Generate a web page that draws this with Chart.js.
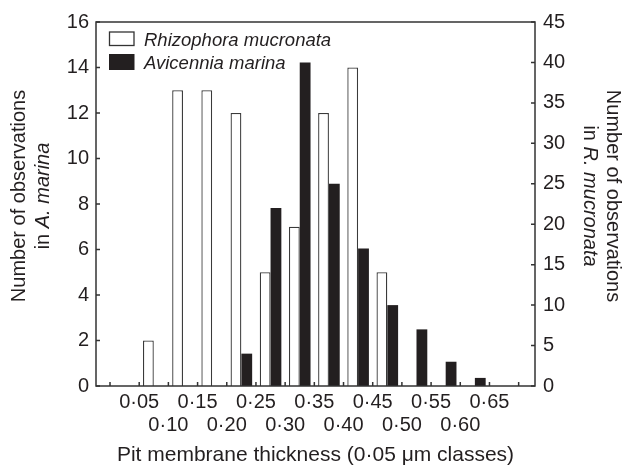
<!DOCTYPE html>
<html>
<head>
<meta charset="utf-8">
<script src="https://cdn.jsdelivr.net/npm/chart.js@4.4.0/dist/chart.umd.min.js"></script>
<style>
  html, body { margin: 0; padding: 0; background: #fff; }
  #wrap { width: 626px; height: 467px; }
</style>
</head>
<body>
<div id="wrap"><canvas id="chart" width="626" height="467"></canvas></div>
<script>
// pit membrane thickness classes (lower bound of each 0.05 um class)
const classStarts = [0.00, 0.05, 0.10, 0.15, 0.20, 0.25, 0.30, 0.35, 0.40, 0.45, 0.50, 0.55, 0.60, 0.65];
// bar heights as drawn against the gridlines
const rhizophora = [0, 2, 13, 13, 12, 5, 7, 12, 14, 5, 0, 0, 0, 0];   // left axis
const avicennia = [0, 0, 0, 0, 4, 22, 40, 25, 17, 10, 7, 3, 1, 0];    // right axis

const xTickValues = [0.00, 0.05, 0.10, 0.15, 0.20, 0.25, 0.30, 0.35, 0.40, 0.45, 0.50, 0.55, 0.60, 0.65, 0.70];
const xTickLabels = ["", "0·05", "0·10", "0·15", "0·20", "0·25", "0·30", "0·35", "0·40", "0·45", "0·50", "0·55", "0·60", "0·65", ""];
const leftTicks = [0, 2, 4, 6, 8, 10, 12, 14, 16];
const rightTicks = [0, 5, 10, 15, 20, 25, 30, 35, 40, 45];

const ink = "#231f20";
const fontFamily = "'Liberation Sans', Arial, Helvetica, sans-serif";
Chart.defaults.font.family = fontFamily;
Chart.defaults.font.size = 20;
Chart.defaults.color = ink;

// frame, inward tick marks, legend and two-line axis titles
const decorPlugin = {
  id: "decor",
  afterDraw(chart) {
    const { ctx, chartArea: a, scales } = chart;
    ctx.save();
    ctx.strokeStyle = "#333";
    ctx.lineWidth = 1.5;
    ctx.strokeRect(a.left, a.top, a.right - a.left, a.bottom - a.top);

    ctx.beginPath();
    xTickValues.forEach((v) => {
      const x = scales.x.getPixelForValue(v);
      ctx.moveTo(x, a.bottom);
      ctx.lineTo(x, a.bottom - 4);
    });
    leftTicks.forEach((v) => {
      const y = scales.y.getPixelForValue(v);
      ctx.moveTo(a.left, y);
      ctx.lineTo(a.left + 4, y);
    });
    rightTicks.forEach((v) => {
      const y = scales.y1.getPixelForValue(v);
      ctx.moveTo(a.right, y);
      ctx.lineTo(a.right - 4, y);
    });
    ctx.stroke();

    // legend
    const ds = chart.data.datasets;
    ctx.font = "italic 18.5px " + fontFamily;
    ctx.textBaseline = "alphabetic";
    ctx.textAlign = "left";
    ctx.fillStyle = "#fff";
    ctx.lineWidth = 1.3;
    ctx.fillRect(109.5, 32, 24.5, 13.5);
    ctx.strokeRect(109.5, 32, 24.5, 13.5);
    ctx.fillStyle = ds[1].backgroundColor;
    ctx.fillRect(109, 54, 25.5, 16);
    ctx.fillStyle = ink;
    ctx.fillText(ds[0].label, 144, 45.5);
    ctx.fillText(ds[1].label, 144, 69);

    // axis titles with italic species names
    function drawParts(parts) {
      let total = 0;
      parts.forEach((p) => {
        ctx.font = (p.italic ? "italic " : "") + "20px " + fontFamily;
        total += ctx.measureText(p.text).width;
      });
      let x = -total / 2;
      parts.forEach((p) => {
        ctx.font = (p.italic ? "italic " : "") + "20px " + fontFamily;
        ctx.fillText(p.text, x, 0);
        x += ctx.measureText(p.text).width;
      });
    }
    ctx.textBaseline = "middle";
    const cy = 196;

    ctx.save();
    ctx.translate(19, cy);
    ctx.rotate(-Math.PI / 2);
    drawParts([{ text: "Number of observations" }]);
    ctx.restore();
    ctx.save();
    ctx.translate(43, cy);
    ctx.rotate(-Math.PI / 2);
    drawParts([{ text: "in " }, { text: "A. marina", italic: true }]);
    ctx.restore();

    ctx.save();
    ctx.translate(613, cy);
    ctx.rotate(Math.PI / 2);
    drawParts([{ text: "Number of observations" }]);
    ctx.restore();
    ctx.save();
    ctx.translate(590, cy);
    ctx.rotate(Math.PI / 2);
    drawParts([{ text: "in " }, { text: "R. mucronata", italic: true }]);
    ctx.restore();

    ctx.restore();
  },
};

const ctx = document.getElementById("chart").getContext("2d");
const chart = new Chart(ctx, {
  type: "bar",
  data: {
    datasets: [
      {
        label: "Rhizophora mucronata",
        data: classStarts.map((s, i) => ({ x: s + 0.025, y: rhizophora[i] })),
        backgroundColor: "#ffffff",
        borderColor: "#3a3a3a",
        borderWidth: 1.3,
        yAxisID: "y",
        barPercentage: 1,
        categoryPercentage: 0.74,
      },
      {
        label: "Avicennia marina",
        data: classStarts.map((s, i) => ({ x: s + 0.025, y: avicennia[i] })),
        backgroundColor: ink,
        borderWidth: 0,
        yAxisID: "y1",
        barPercentage: 1,
        categoryPercentage: 0.74,
      },
    ],
  },
  options: {
    responsive: false,
    animation: false,
    layout: { padding: { top: 22, left: 0, right: 0, bottom: 0 } },
    plugins: { legend: { display: false }, tooltip: { enabled: false } },
    scales: {
      x: {
        type: "linear",
        min: -0.024,
        max: 0.728,
        offset: false,
        grid: { display: false, drawTicks: false, offset: false },
        border: { display: false },
        afterBuildTicks: (scale) => {
          scale.ticks = xTickValues.map((v) => ({ value: v }));
        },
        afterFit: (scale) => {
          scale.height = 81;
        },
        ticks: {
          autoSkip: false,
          maxRotation: 0,
          minRotation: 0,
          padding: 5,
          font: { size: 20, lineHeight: 1.15 },
          callback: (value, index) => {
            const label = xTickLabels[index];
            return index % 2 === 1 ? [label, ""] : ["", label];
          },
        },
        title: {
          display: true,
          text: "Pit membrane thickness (0·05 μm classes)",
          font: { size: 21, lineHeight: 1.1 },
          padding: { top: 0, bottom: 0 },
        },
      },
      y: {
        position: "left",
        min: 0,
        max: 16,
        grid: { display: false, drawTicks: false },
        border: { display: false },
        afterBuildTicks: (scale) => {
          scale.ticks = leftTicks.map((v) => ({ value: v }));
        },
        afterFit: (scale) => {
          scale.width = 96;
        },
        ticks: { padding: 7 },
      },
      y1: {
        position: "right",
        min: 0,
        max: 45,
        grid: { display: false, drawTicks: false },
        border: { display: false },
        afterBuildTicks: (scale) => {
          scale.ticks = rightTicks.map((v) => ({ value: v }));
        },
        afterFit: (scale) => {
          scale.width = 91;
        },
        ticks: { padding: 8 },
      },
    },
  },
  plugins: [decorPlugin],
});
</script>
</body>
</html>
